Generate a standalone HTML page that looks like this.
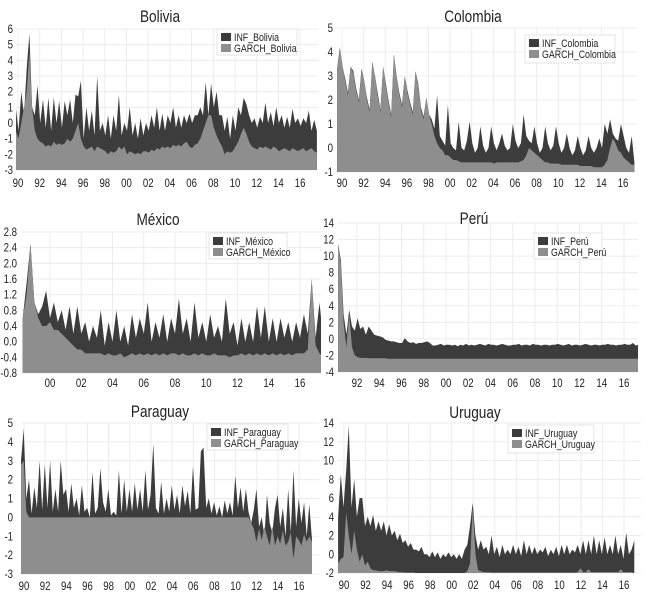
<!DOCTYPE html>
<html><head><meta charset="utf-8">
<style>
html,body{margin:0;padding:0;background:#fff;}
svg{display:block;}
text{font-family:"Liberation Sans Narrow","Liberation Sans",sans-serif;fill:#222;}
</style></head>
<body>
<svg id="chart" width="650" height="600" viewBox="0 0 650 600" xmlns="http://www.w3.org/2000/svg"></svg>
<script>
// ---- data (quarterly values) ----
const bolInf=[1,-0.5,2,0.5, 3.5,5.7,1,0.5, 2.4,0,1.5,-0.3, 1.6,-0.5,1.6,0, 1.4,-0.3,1.4,0.5, 1.5,0,1.8,1.7, 2.7,-1,1,-0.5, 0.8,-0.8,3,-0.5, 0,-0.8,0.5,-1, 0.5,-0.5,1.8,-0.8, 0,-0.5,1,-0.8, 0,-1,0.3,-0.8, 0,-0.5,0.5,-0.3, 1,-0.5,0.6,-0.5, 0.5,0,1,-0.3, 0.5,-0.3,0.5,0, 0.6,0,0.5,0.5, 1,0.5,2.6,0.5, 2.5,1,2,0.5, 0.5,-0.5,0.4,-1, 0.5,-0.5,1,0.5, 1.6,1.2,0.5,0, 0.3,-0.3,0.4,0, 1.3,0,0.7,-0.2, 1,0,0.5,-0.3, 0.4,-0.3,0.9,0, 0.3,-0.2,0.3,0, 0.8,-0.5,0.2,-0.5];
const bolGarch=[-0.5,-1,0,1, 2,4.5,1,-0.5, -1,-1.2,-1.3,-1.5, -1.4,-1.5,-1.2,-1.4, -1.3,-1.4,-1.3,-1, -1.2,-1,-0.5,0, -1,-1.5,-1.7,-1.6, -1.5,-1.8,-1.5,-1.6, -1.7,-1.8,-2,-1.8, -1.9,-1.8,-1.5,-1.7, -1.5,-2,-1.8,-1.9, -2,-1.9,-2,-1.8, -1.8,-1.9,-1.7,-1.8, -1.6,-1.7,-1.5,-1.6, -1.5,-1.6,-1.4,-1.5, -1.4,-1.5,-1.3,-1.2, -1.5,-1.6,-1.4,-1.3, -1,-0.5,0,0.5, 0.5,-0.3,-0.8,-1.2, -1.5,-2,-1.8,-1.9, -1.8,-1.5,-1.2,-0.7, -0.3,-0.7,-1.2,-1.5, -1.6,-1.7,-1.5,-1.6, -1.5,-1.6,-1.7,-1.5, -1.6,-1.8,-1.7,-1.6, -1.7,-1.8,-1.6,-1.7, -1.8,-1.7,-1.6,-1.8, -1.7,-1.6,-1.8,-1.9];
const colInf=[3.3,4.2,3.4,2.9,2.3, 3.4,3.2,2.5,2.0, 3.3,2.8,2.1,1.6, 3.6,3.0,2.3,1.6, 3.4,2.7,2.0,1.4, 3.9,3.0,2.3,1.8, 3.0,2.4,1.9,1.5, 3.2,2.7,1.7,1.3, 2.1,1.4,1.2,0.8, 2.2,0.5,0.3,0.1, 1.8,0.2,0,-0.1, 1.1,0,-0.1,0.3, 1.1,0.2,-0.2,0, 0.9,0.1,-0.2,0, 0.9,0.2,-0.1,0.2, 0.6,0.1,-0.1,0, 1.0,0.3,0,0.2, 1.4,0.5,0.3,0.2, 0.9,0.2,-0.2,0, 0.9,0.2,-0.1,0.1, 0.9,0.2,-0.2,0, 0.6,0,-0.3,-0.1, 0.5,0,-0.3,-0.1, 0.5,0,-0.2,0, 0.4,0,1.0,0.6, 1.2,0.6,0.4,0.3, 1.0,0.5,0,-0.2, 0.5,-0.6];
const colGarch=[3.2,4.2,3.4,2.8,2.2, 3.4,3.1,2.4,1.9, 3.2,2.8,2.0,1.5, 3.6,3.0,2.2,1.5, 3.4,2.6,1.9,1.3, 3.9,3.0,2.2,1.7, 3.0,2.3,1.8,1.4, 3.2,2.6,1.6,1.2, 2.1,1.4,1.0,0.5, 0.2,0,-0.1,-0.3, -0.3,-0.4,-0.5,-0.5, -0.55,-0.6,-0.6,-0.6, -0.6,-0.6,-0.6,-0.6, -0.6,-0.6,-0.6,-0.6, -0.6,-0.65,-0.6,-0.6, -0.6,-0.6,-0.6,-0.6, -0.6,-0.6,-0.6,-0.55, -0.5,-0.3,0,-0.1, -0.2,-0.3,-0.4,-0.5, -0.6,-0.6,-0.65,-0.65, -0.65,-0.65,-0.7,-0.7, -0.7,-0.7,-0.7,-0.7, -0.7,-0.75,-0.75,-0.75, -0.75,-0.75,-0.8,-0.8, -0.8,-0.8,-0.7,-0.5, 0,0.4,0.2,-0.1, -0.2,-0.4,-0.5,-0.6, -0.7,-0.7];
const mexInf=[0.6,1.5,2.5,1.0, 0.7,0.9,1.3,0.6, 1.0,0.5,0.8,0.3, 0.9,0.2,0.9,0.2, 0.5,0.0,0.4,0.1, 0.8,-0.1,0.5,0.0, 0.8,0.0,0.4,-0.1, 0.7,0.1,0.6,0.2, 1.0,0.0,0.5,0.1, 0.7,0.0,0.6,0.2, 1.1,0.2,0.6,0.0, 1.0,0.1,0.5,0.0, 0.7,0.1,0.4,0.0, 1.1,0.2,0.5,-0.1, 0.6,0.0,0.5,0.0, 0.9,0.1,0.9,0.0, 0.6,0.0,0.6,0.1, 0.5,0.0,0.5,0.1, 0.7,0.2,1.6,0.1, 1.0,0.0];
const mexGarch=[0.6,1.2,2.5,1.0, 0.6,0.4,0.4,0.5, 0.3,0.3,0.2,0.1, 0,-0.1,-0.2,-0.2, -0.3,-0.3,-0.3,-0.3, -0.3,-0.35,-0.3,-0.35, -0.35,-0.3,-0.4,-0.35, -0.3,-0.35,-0.3,-0.35, -0.3,-0.35,-0.3,-0.35, -0.3,-0.35,-0.3,-0.3, -0.35,-0.3,-0.35,-0.35, -0.3,-0.35,-0.3,-0.35, -0.35,-0.3,-0.35,-0.35, -0.35,-0.4,-0.35,-0.35, -0.3,-0.35,-0.3,-0.35, -0.3,-0.35,-0.3,-0.35, -0.3,-0.35,-0.3,-0.35, -0.3,-0.35,-0.3,-0.3, -0.3,-0.2,1.6,-0.1, -0.3,-0.4];
const perInf=[11.5,9.5,3,0.5, 3.5,1.5,1,2.5, 1.2,1.5,0.5,1.5, 1,0.5,0.4,0.3, 0.2,-0.1,-0.2,-0.3, -0.3,-0.4,-0.5,-0.5, 0.1,-0.3,-0.5,-0.4, -0.6,-0.5,-0.5,-0.4, -0.3,-0.5,-0.8,-0.8, -0.7,-0.6,-0.8,-0.7, -0.7,-0.8,-0.7,-0.9, -0.7,-0.8,-0.6,-0.8, -0.7,-0.8,-0.7,-0.6, -0.7,-0.8,-0.6,-0.7, -0.7,-0.8,-0.7,-0.6, -0.7,-0.8,-0.8,-0.7, -0.7,-0.6,-0.8,-0.7, -0.7,-0.8,-0.6,-0.7, -0.7,-0.8,-0.7,-0.7, -0.8,-0.7,-0.7,-0.6, -0.7,-0.8,-0.7,-0.6, -0.8,-0.7,-0.7,-0.8, -0.7,-0.6,-0.7,-0.8, -0.7,-0.7,-0.8,-0.7, -0.7,-0.6,-0.7,-0.7, -0.8,-0.7,-0.7,-0.6, -0.7,-0.7,-0.5,-0.8, -0.7,-0.9,-0.7];
const perGarch=[11.5,9.0,2,-1, 3,-1,-2,-2.2, -2.3,-2.3,-2.3,-2.35, -2.35,-2.35,-2.35,-2.35, -2.35,-2.35,-2.4,-2.4, -2.4,-2.4,-2.4,-2.4, -2.4,-2.4,-2.4,-2.4, -2.4,-2.4,-2.4,-2.4, -2.4,-2.4,-2.4,-2.4, -2.4,-2.4,-2.4,-2.4, -2.4,-2.4,-2.4,-2.4, -2.4,-2.4,-2.4,-2.4, -2.4,-2.4,-2.4,-2.4, -2.4,-2.4,-2.4,-2.4, -2.4,-2.4,-2.4,-2.4, -2.4,-2.4,-2.4,-2.4, -2.4,-2.4,-2.4,-2.4, -2.4,-2.4,-2.4,-2.4, -2.4,-2.4,-2.4,-2.4, -2.4,-2.4,-2.4,-2.4, -2.4,-2.4,-2.4,-2.4, -2.4,-2.4,-2.4,-2.4, -2.4,-2.4,-2.4,-2.4, -2.4,-2.4,-2.4,-2.4, -2.4,-2.4,-2.4,-2.4, -2.4,-2.4,-2.4,-2.4, -2.4,-2.4,-2.4,-2.4, -2.4,-2.4,-2.4];
const parInf=[3,4.7,1.0,2.0,0.2, 1.6,0.5,3,0.4, 2.8,0.5,3,0.3, 1.5,0.3,3,1.2, 1.5,0.3,1.8,0.5, 1,0.1,1.7,0.3, 0.5,0,2.4,0.2, 0.5,2.6,0.8,0.3, 1.5,0.1,0.3,0.1, 2.5,0.2,2,0.3, 1.5,0.3,1.8,0.4, 1.5,0.3,2.5,0.4, 1.2,3.9,0.5,0.2, 1.9,0.2,1.0,0.3, 1.7,0.4,1.2,0.2, 1.7,0.6,1.4,0.2, 2.7,0.4,0.5,3.5, 3.7,0.5,1.0,0.2, 0.8,0.1,0.6,0, 0.9,0.2,0.8,0.1, 2.2,0.5,1.6,0.3, 1.5,0.3,-0.3,0.4, 1.5,-0.5,0,-1, 1.2,-0.3,-0.8,0.5, 1.2,-0.5,0.5,-1, 1.5,-0.8,2.5,-0.5, 1,-0.3,0.8,-1, 0.7,-1.2];
const parGarch=[2.8,3,0.3,0,0, 0,0,0,0, 0,0,0,0, 0,0,0,0, 0,0,0,0, 0,0,0,0, 0,0,0,0, 0,0,0,0, 0,0,0,0, 0,0,0,0, 0,0,0,0, 0,0,0,0, 0,0,0,0, 0,0,0,0, 0,0,0,0, 0,0,0,0, 0,0,0,0, 0,0,0,0, 0,0,0,0, 0,0,0,0, 0,0,0,0, 0,0,-0.3,-0.6, -1.3,-0.6,-1.2,-0.5, -1,-1.5,-0.5,-1.5, -1,-1.4,-0.7,-1.5, -1.3,-0.8,-2.2,-1, -1.2,-1.5,-0.9,-1.3, -1,-1.3];
const uruInf=[4,8.5,5,9,13.7, 5,8,4,6, 6,3,4,3, 4.2,2.5,3.5,2.5, 3.5,2,3.2,2, 2.5,1.5,2.2,1.2, 1.5,0.8,1.2,0.5, 0.5,0.3,0.8,0, 0,-0.3,0.3,-0.3, 0.2,-0.5,0,-0.3, 0.2,-0.3,0,-0.5, 0,-0.5,0.5,1, 3,5.5,2,0.5, 1.5,0.5,0.8,0, 2,0,0.8,-0.3, 1,0,0.5,0, 1,0,0.8,-0.2, 1.5,0,1,0, 0.8,0,0.5,0.2, 0.8,-0.2,0.5,0, 0.8,-0.2,1,0, 1,0,0.5,0.2, 1,0,1.5,0, 1.5,0,2,0, 1.5,0,1.8,0, 1,0,2,0, 1,-0.5,2.3,0, 0.5,1.5];
const uruGarch=[-1,-0.5,-0.3,4.5,2, 0,2.5,0.5,-0.8, 0,-1.2,-0.8,-1.5, -1.7,-1.7,-1.8,-1.8, -1.8,-1.7,-1.8,-1.8, -1.8,-1.85,-1.9,-1.9, -1.95,-1.95,-1.95,-1.95, -2,-2,-2,-2, -2,-2,-2,-2, -2,-2,-2,-2, -2,-2,-2,-2, -2,-2,-2,-1.8, -1,5,0,-1.7, -1.8,-1.9,-1.9,-1.9, -1.95,-1.95,-1.95,-1.95, -1.95,-1.95,-1.95,-1.95, -1.95,-1.95,-1.95,-1.95, -1.95,-1.95,-1.95,-1.95, -1.95,-1.95,-1.95,-1.95, -1.95,-1.95,-1.95,-1.95, -1.95,-1.95,-1.95,-1.95, -1.95,-1.95,-1.95,-1.95, -1.9,-1.5,-1.9,-1.9, -1.6,-1.9,-1.9,-1.9, -1.9,-1.9,-1.9,-1.9, -1.9,-1.9,-1.9,-1.9, -1.6,-1.9,-1.9,-1.9, -1.9,-2];
const bolYTicks=[6,5,4,3,2,1,0,-1,-2,-3];
const colYTicks=[5,4,3,2,1,0,-1];
const mexYTicks=[2.8,2.4,2.0,1.6,1.2,0.8,0.4,0.0,-0.4,-0.8];
const perYTicks=[14,12,10,8,6,4,2,0,-2,-4];
const parYTicks=[5,4,3,2,1,0,-1,-2,-3];
const uruYTicks=[14,12,10,8,6,4,2,0,-2];
const fullXTicks=[1990,1992,1994,1996,1998,2000,2002,2004,2006,2008,2010,2012,2014,2016];
const mexXTicks=[2000,2002,2004,2006,2008,2010,2012,2014,2016];
const perXTicks=[1992,1994,1996,1998,2000,2002,2004,2006,2008,2010,2012,2014,2016];

// ---- layout ----
const panels=[
 {key:'bolivia',title:'Bolivia',tx:160,ty:22,inf:bolInf,garch:bolGarch,yt:bolYTicks,xt:fullXTicks,
  l:16,r:318,yMax:6,yMin:-3,top:29,bot:170,x0:18,yr0:1990,ppy:10.85,start:1989.8,lab:183,
  lg:[217,29,80,26],n1:'INF_Bolivia',n2:'GARCH_Bolivia',yl:13},
 {key:'colombia',title:'Colombia',tx:473,ty:22,inf:colInf,garch:colGarch,yt:colYTicks,xt:fullXTicks,
  l:337,r:637,yMax:5,yMin:-1,top:28,bot:172,x0:342,yr0:1990,ppy:10.81,start:1989.55,lab:183,
  lg:[525,35,90,28],n1:'INF_Colombia',n2:'GARCH_Colombia',yl:333},
 {key:'mexico',title:'México',tx:158,ty:225,inf:mexInf,garch:mexGarch,yt:mexYTicks,xt:mexXTicks,
  l:22,r:321,yMax:2.8,yMin:-0.8,top:232,bot:373,x0:50,yr0:2000,ppy:15.625,start:1998.25,lab:383,
  lg:[209,233,78,26],n1:'INF_México',n2:'GARCH_México',yl:17},
 {key:'peru',title:'Perú',tx:474,ty:224,inf:perInf,garch:perGarch,yt:perYTicks,xt:perXTicks,
  l:338,r:638,yMax:14,yMin:-4,top:223,bot:372,x0:357,yr0:1992,ppy:11.125,start:1990.3,lab:383,
  lg:[534,233,68,26],n1:'INF_Perú',n2:'GARCH_Perú',yl:334},
 {key:'paraguay',title:'Paraguay',tx:160,ty:417,inf:parInf,garch:parGarch,yt:parYTicks,xt:fullXTicks,
  l:21,r:319,yMax:5,yMin:-3,top:423,bot:574,x0:24,yr0:1990,ppy:10.58,start:1989.72,lab:586,
  lg:[207,424,81,26],n1:'INF_Paraguay',n2:'GARCH_Paraguay',yl:13},
 {key:'uruguay',title:'Uruguay',tx:475,ty:418,inf:uruInf,garch:uruGarch,yt:uruYTicks,xt:fullXTicks,
  l:338,r:641,yMax:14,yMin:-2,top:423,bot:573,x0:344,yr0:1990,ppy:10.77,start:1989.45,lab:585,
  lg:[508,425,86,28],n1:'INF_Uruguay',n2:'GARCH_Uruguay',yl:334}
];
const NS='http://www.w3.org/2000/svg';
const svg=document.getElementById('chart');
const narrowTexts=[];
function mk(tag,attrs,parent){const e=document.createElementNS(NS,tag);for(const k in attrs)e.setAttribute(k,attrs[k]);(parent||svg).appendChild(e);if(tag==='text')narrowTexts.push(e);return e;}

panels.forEach(p=>{
  const g=mk('g',{});
  
  
  const xs=yr=>p.x0+(yr-p.yr0)*p.ppy;
  const ys=v=>p.top+(p.yMax-v)*(p.bot-p.top)/(p.yMax-p.yMin);
  const clip=mk('clipPath',{id:'c-'+p.key},g);
  mk('rect',{x:p.l,y:p.top,width:p.r-p.l,height:p.bot-p.top},clip);
  p.yt.forEach(v=>{
    const ln=mk('line',{x1:p.l,x2:p.r,y1:ys(v),y2:ys(v),stroke:'#ececec','stroke-width':1},g);
    
    
    const t=mk('text',{x:p.yl,y:ys(v)+4,'text-anchor':'end','font-size':12},g);
    
    
    t.textContent=(p.key==='mexico')?v.toFixed(1):String(v);
  });
  p.xt.forEach(yr=>{
    const x=xs(yr);
    const ln=mk('line',{x1:x,x2:x,y1:p.top,y2:p.bot,stroke:'#ececec','stroke-width':1},g);
    
    
    const t=mk('text',{x:x,y:p.lab+4,'text-anchor':'middle','font-size':12},g);
    
    
    t.textContent=String(yr).slice(2);
  });
  const area=(arr,col,name)=>{
    let d='M'+xs(p.start).toFixed(1)+','+p.bot;
    arr.forEach((v,i)=>{d+=' L'+xs(p.start+i*0.25).toFixed(1)+','+ys(v).toFixed(1);});
    d+=' L'+xs(p.start+(arr.length-1)*0.25).toFixed(1)+','+p.bot+' Z';
    const a=mk('path',{d:d,fill:col,'clip-path':'url(#c-'+p.key+')'},g);
    
    
  };
  area(p.inf,'#3c3c3c','inf-area');
  area(p.garch,'#8e8e8e','garch-area');
  const tt=mk('text',{x:p.tx,y:p.ty,'text-anchor':'middle','font-size':17},g);
  
  
  tt.textContent=p.title;
  const [lx,ly,lw,lh]=p.lg;
  const lgG=mk('g',{},g);
  
  
  mk('rect',{x:lx,y:ly,width:lw,height:lh,fill:'#fff',stroke:'#e4e4e4'},lgG);
  [[p.n1,'#3c3c3c'],[p.n2,'#8e8e8e']].forEach((e,i)=>{
    const yy=ly+4+i*11;
    const sw=mk('rect',{x:lx+4,y:yy,width:10,height:8,fill:e[1]},lgG);
    
    
    const t=mk('text',{x:lx+17,y:yy+8,'font-size':11},lgG);
    
    
    t.textContent=e[0];
  });
});
// condense text to mimic narrow typeface
narrowTexts.forEach(t=>{
  try{const w=t.getComputedTextLength();if(w>0){t.setAttribute('textLength',(w*0.8).toFixed(1));t.setAttribute('lengthAdjust','spacingAndGlyphs');}}catch(e){}
});
</script>
</body></html>
